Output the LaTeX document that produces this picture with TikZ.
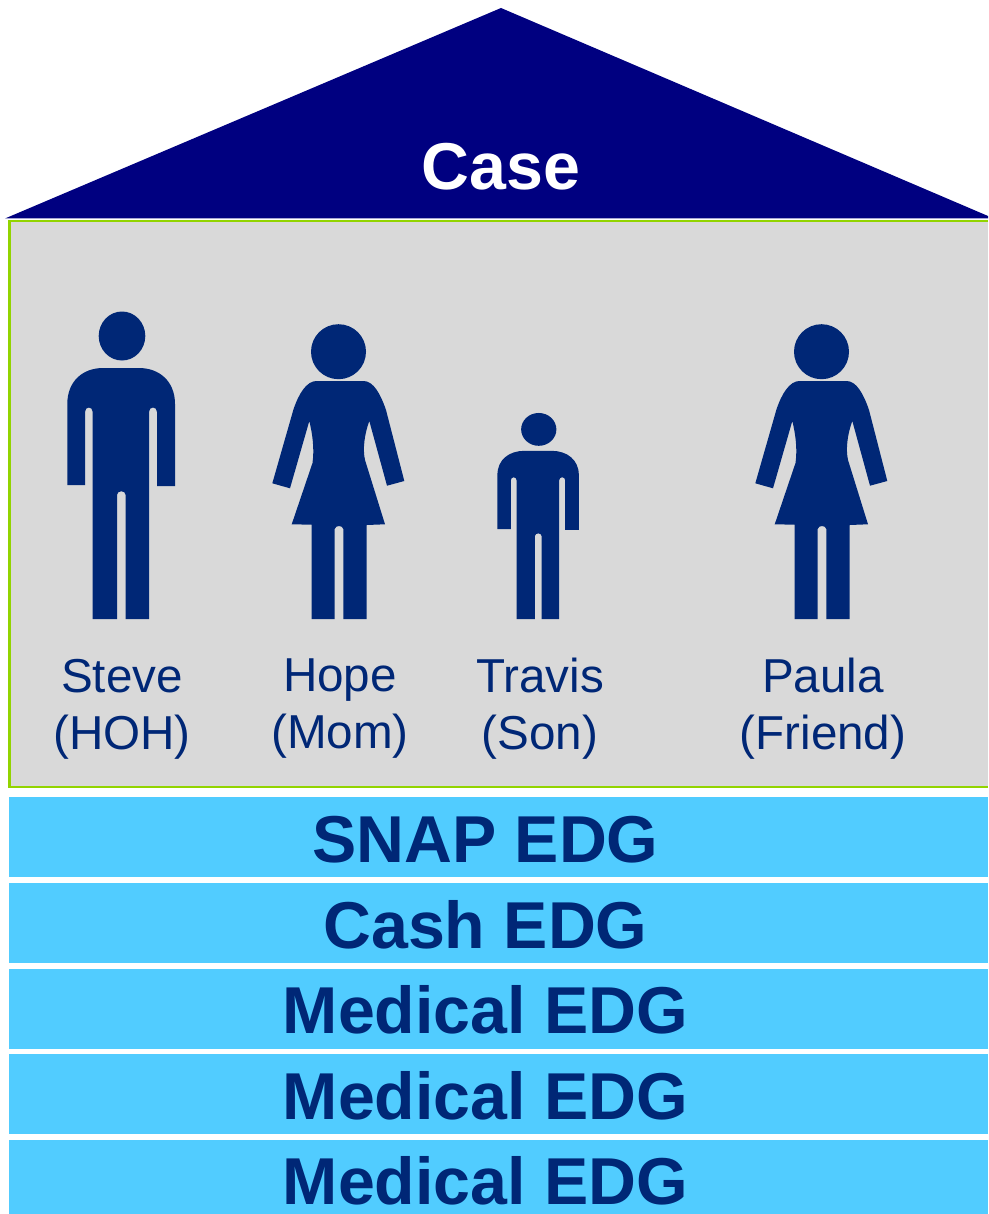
\documentclass[tikz,border=0pt]{standalone}
\usepackage{fontspec}
\usepackage{xcolor}
\usepackage{tikz}
\setmainfont{Liberation Sans}

\definecolor{roofblue}{RGB}{0,0,128}
\definecolor{figblue}{RGB}{0,39,118}
\definecolor{bandblue}{RGB}{81,204,255}
\definecolor{panelgray}{RGB}{217,217,217}
\definecolor{panelgreen}{RGB}{146,212,0}

\tikzset{
  caselabel/.style={text=white,font=\fontsize{66.3}{66}\selectfont\bfseries,anchor=base,inner sep=0},
  personlabel/.style={text=figblue,font=\fontsize{47.6}{57}\selectfont,align=center,inner sep=0},
  bandlabel/.style={text=figblue,font=\fontsize{66.3}{66}\selectfont\bfseries,anchor=base,inner sep=0}
}

\newcommand{\manfig}{
\fill[figblue] (-28.3,0)--(-4,0)--(-4,-124) .. controls (-4,-129) and (4.7,-129) .. (4.7,-124)--(4.7,0)--(28,0)--(28,-207)
  .. controls (28,-213) and (36,-213) .. (36,-207)--(36,-133)--(54,-133)--(54,-215)
  .. controls (54,-238) and (38,-251) .. (18,-251)--(-18,-251)
  .. controls (-38,-251) and (-53.7,-238) .. (-53.7,-215)--(-53.7,-134)--(-36,-134)--(-36,-207)
  .. controls (-36,-213) and (-28.3,-213) .. (-28.3,-207)--cycle;
\fill[figblue] (1,-283) ellipse (23.3 and 24.5);
}

\newcommand{\womanfig}{
\fill[figblue] (-26.8,0)--(-3.8,0)--(-3.8,-90) .. controls (-3,-94) and (4,-94) .. (4.8,-90)--(4.8,0)--(28.2,0)--(28.2,-94)--(46.5,-94.7)--(26.5,-159)
  .. controls (24,-170) and (26,-185) .. (30.8,-198)--(48.5,-133.3)--(65.8,-138)--(47.5,-209)
  .. controls (42,-225) and (35,-238) .. (25,-238)--(-22,-238)
  .. controls (-32,-238) and (-40,-225) .. (-45.2,-209)--(-66.2,-135.7)--(-48.5,-130.7)--(-29.2,-198)
  .. controls (-26,-185) and (-24,-170) .. (-26,-156)--(-46.8,-94.7)--(-26.8,-94.3)--cycle;
\fill[figblue] (0,-267.3) circle (27.5);
}

\begin{document}
\begin{tikzpicture}[x=1pt,y=-1pt]
\useasboundingbox (0,0) rectangle (988,1214);

% roof
\fill[roofblue] (501,8)--(988,216)--(988,218.5)--(5,218.5)--cycle;
\node[caselabel] (case) at (501,190) {Case};

% panel
\fill[panelgray] (9,221) rectangle (988,787);
\draw[panelgreen, line width=2.6] (988,221)--(9.5,221)--(9.5,787)--(988,787);

% people
\begin{scope}[shift={(121,619)}]
\manfig
\end{scope}

\begin{scope}[shift={(338.5,619)}]
\womanfig
\end{scope}

\begin{scope}[shift={(538,619)},xscale=0.756,yscale=0.67]
\manfig
\end{scope}

\begin{scope}[shift={(821.5,619)}]
\womanfig
\end{scope}

\node[personlabel] (steve) at (122,709) {Steve\\(HOH)};
\node[personlabel] (hope) at (340,709) {Hope\\(Mom)};
\node[personlabel] (travis) at (540,709) {Travis\\(Son)};
\node[personlabel] (paula) at (823,709) {Paula\\(Friend)};

% eligibility groups
\foreach \ytop/\ybot/\ybase/\lbl in {797/877/862/SNAP EDG,883/963/948/Cash EDG,969/1049/1033/Medical EDG,1054/1134/1119/Medical EDG,1140/1214/1204/Medical EDG}
{
\fill[bandblue] (9,\ytop) rectangle (988,\ybot);
\node[bandlabel] at (485.5,\ybase) {\lbl};
}
\end{tikzpicture}
\end{document}
